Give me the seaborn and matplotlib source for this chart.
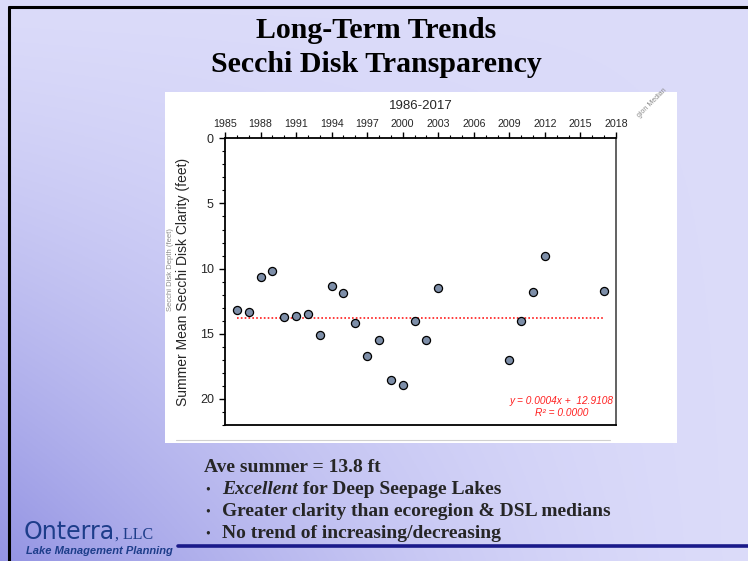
import numpy as np
import pandas as pd
import matplotlib
matplotlib.use("Agg")
import matplotlib.pyplot as plt
from matplotlib.patches import Rectangle
from matplotlib.lines import Line2D
import matplotlib.ticker as mticker
import seaborn as sns

# ---- data ----
years = [1986, 1987, 1988, 1989, 1990, 1991, 1992, 1993, 1994, 1995, 1996, 1997,
         1998, 1999, 2000, 2001, 2002, 2003, 2009, 2010, 2011, 2012, 2017]
secchi_ft = [13.2, 13.3, 10.65, 10.2, 13.7, 13.6, 13.5, 15.1, 11.35, 11.85, 14.2, 16.7,
             15.5, 18.55, 18.95, 14.05, 15.5, 11.5, 17.0, 14.0, 11.8, 9.0, 11.7]
mean_ft = 13.8
x_ticks = [1985, 1988, 1991, 1994, 1997, 2000, 2003, 2006, 2009, 2012, 2015, 2018]
y_ticks = [0, 5, 10, 15, 20]
title_lines = ["Long-Term Trends", "Secchi Disk Transparency"]
bullet_head = "Ave summer = 13.8 ft"
bullets = [("Excellent", " for Deep Seepage Lakes"),
           ("", "Greater clarity than ecoregion & DSL medians"),
           ("", "No trend of increasing/decreasing")]

df = pd.DataFrame({"year": years, "secchi": secchi_ft})

sns.set_theme(style="white")
plt.rcParams['font.family'] = ['Liberation Sans', 'DejaVu Sans']

W, H = 748, 561
fig = plt.figure(figsize=(W / 100, H / 100), dpi=100)

def fx(x):
    return x / W

def fy(y):
    return 1 - y / H

# ---- slide background gradient ----
bg = fig.add_axes([0, 0, 1, 1])
bg.set_zorder(-10)
bg.set_axis_off()
xx, yy = np.meshgrid(np.linspace(0, 1, 300), np.linspace(0, 1, 225))
d = np.clip(((1 - xx) ** 1.6) * (yy ** 1.3), 0, 1)
light = np.array([0.86, 0.86, 0.98])
dark = np.array([0.58, 0.58, 0.89])
img = light[None, None, :] * (1 - d[..., None]) + dark[None, None, :] * d[..., None]
bg.imshow(img, extent=[0, 1, 0, 1], aspect='auto', origin='upper')
bg.set_xlim(0, 1)
bg.set_ylim(0, 1)

# black slide frame (top + left)
fig.add_artist(Line2D([fx(9), 1], [fy(7), fy(7)], color='black', lw=2.2,
                      transform=fig.transFigure, zorder=1))
fig.add_artist(Line2D([fx(9), fx(9)], [fy(7), 0], color='black', lw=2.2,
                      transform=fig.transFigure, zorder=1))

# white chart panel
fig.add_artist(Rectangle((fx(165), fy(443)), fx(677) - fx(165), fy(92) - fy(443),
                         facecolor='white', edgecolor='none', transform=fig.transFigure,
                         zorder=0.5))
# faint remnant line and labels from underlying chart
fig.add_artist(Line2D([fx(176), fx(610)], [fy(440), fy(440)], color='#d0d0d0', lw=0.8,
                      transform=fig.transFigure, zorder=1))
fig.text(fx(171), fy(270), "Secchi Disk Depth (feet)", rotation=90, ha='center', va='center',
         fontsize=5.5, color='#8a8a8a')
fig.text(fx(652), fy(103), "gion Median", rotation=45, ha='center', va='center',
         fontsize=5, color='#8a8a8a')

# ---- chart ----
ax = fig.add_axes([fx(225), fy(425), fx(616) - fx(225), fy(138.3) - fy(425)])
ax.set_zorder(5)
ax.set_facecolor('white')
sns.scatterplot(data=df, x="year", y="secchi", ax=ax, s=34, color='#7d8ea8',
                edgecolor='black', linewidth=0.9, zorder=3, legend=False)
ax.plot([min(years), max(years)], [mean_ft, mean_ft], color='#ff1a1a', lw=1.2,
        linestyle=(0, (1, 1.3)), zorder=2)

ax.set_xlim(x_ticks[0], x_ticks[-1])
ax.set_ylim(22, 0)
ax.xaxis.tick_top()
ax.xaxis.set_label_position('top')
ax.set_xticks(x_ticks)
ax.set_xticklabels([str(t) for t in x_ticks], fontsize=7.7)
ax.xaxis.set_minor_locator(mticker.MultipleLocator(1))
ax.set_yticks(y_ticks)
ax.set_yticklabels([str(t) for t in y_ticks], fontsize=9)
ax.yaxis.set_minor_locator(mticker.MultipleLocator(1))
ax.tick_params(axis='x', which='major', direction='out', length=4, width=1, color='black',
               pad=3, top=True, bottom=False)
ax.tick_params(axis='x', which='minor', direction='out', length=2.5, width=0.8, color='black',
               top=True, bottom=False)
ax.tick_params(axis='y', which='major', direction='out', length=4, width=1, color='black',
               pad=4, left=True)
ax.tick_params(axis='y', which='minor', direction='out', length=2.5, width=0.8, color='black',
               left=True)
for s in ax.spines.values():
    s.set_color('black')
    s.set_linewidth(1.3)
ax.spines['right'].set_color('#555555')
ax.set_xlabel("")
ax.set_ylabel("Summer Mean Secchi Disk Clarity (feet)", fontsize=10, labelpad=7)
ax.set_title("1986-2017", fontsize=9.5, pad=21)

ax.text(0.86, 0.085, "y = 0.0004x +  12.9108", transform=ax.transAxes, ha='center',
        va='center', fontsize=7.3, style='italic', color='#ff2020')
ax.text(0.86, 0.043, "R² = 0.0000", transform=ax.transAxes, ha='center',
        va='center', fontsize=7.3, style='italic', color='#ff2020')

# ---- slide title ----
serif = ['Liberation Serif', 'DejaVu Serif']
fig.text(fx(376), fy(31), title_lines[0], ha='center', va='center', fontsize=21.5,
         fontweight='bold', family=serif, color='black')
fig.text(fx(376), fy(65), title_lines[1], ha='center', va='center', fontsize=21.5,
         fontweight='bold', family=serif, color='black')

# ---- bullets ----
bfs = 14
fig.text(fx(204), fy(467), bullet_head, ha='left', va='center', fontsize=bfs,
         fontweight='bold', family=serif)
by = [490, 512, 534]
for (ital, rest), yv in zip(bullets, by):
    fig.text(fx(205), fy(yv), "•", ha='left', va='center', fontsize=10, family=serif)
    if ital:
        t = fig.text(fx(222), fy(yv), ital, ha='left', va='center', fontsize=bfs,
                     fontweight='bold', style='italic', family=serif)
        fig.canvas.draw()
        bb = t.get_window_extent()
        fig.text(bb.x1 / W, fy(yv), rest, ha='left', va='center', fontsize=bfs,
                 fontweight='bold', family=serif)
    else:
        fig.text(fx(222), fy(yv), rest, ha='left', va='center', fontsize=bfs,
                 fontweight='bold', family=serif)

# blue rule
fig.add_artist(Line2D([fx(178), 1], [fy(546), fy(546)], color='#1a1a8a', lw=2.6,
                      transform=fig.transFigure, zorder=2))

# ---- logo ----
logo_c = '#1d3d8a'
t1 = fig.text(fx(24), fy(532), "Onterra", ha='left', va='center', fontsize=17,
              family=['DejaVu Sans'], color=logo_c)
fig.canvas.draw()
bb1 = t1.get_window_extent()
fig.text(bb1.x1 / W, fy(534.5), ", LLC", ha='left', va='center', fontsize=11.5,
         family=serif, color=logo_c)
fig.text(fx(26), fy(551), "Lake Management Planning", ha='left', va='center', fontsize=8,
         fontweight='bold', style='italic', color=logo_c)

fig.savefig("out.png", dpi=100)
